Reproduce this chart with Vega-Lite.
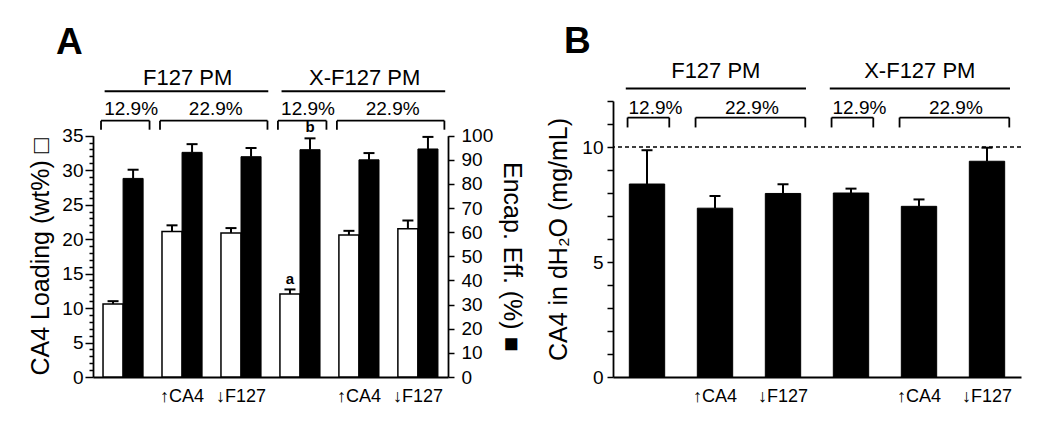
{
  "$schema": "https://vega.github.io/schema/vega-lite/v6.json",
  "padding": {"left": 28, "top": 22, "right": 5, "bottom": 5},
  "background": "white",
  "config": {
    "font": "Liberation Sans",
    "view": {"stroke": null},
    "axis": {"domainColor": "black", "tickColor": "black", "labelColor": "black", "titleColor": "black", "labelFont": "Liberation Sans", "titleFont": "Liberation Sans", "domainWidth": 1.8, "tickWidth": 1.5, "grid": false, "labelFontSize": 19, "titleFontSize": 25, "titleFontWeight": "normal"},
    "title": {"font": "Liberation Sans", "fontSize": 37, "fontWeight": "bold", "color": "black"},
    "text": {"font": "Liberation Sans", "color": "black"}
  },
  "datasets": {
    "A": [
      {"group": "F127 PM 12.9%", "measure": "Loading", "value": 10.6, "upper": 11.0},
      {"group": "F127 PM 12.9%", "measure": "EE", "value": 82.3, "upper": 85.9},
      {"group": "F127 PM 22.9% ↑CA4", "measure": "Loading", "value": 21.1, "upper": 22.0},
      {"group": "F127 PM 22.9% ↑CA4", "measure": "EE", "value": 93.1, "upper": 96.5},
      {"group": "F127 PM 22.9% ↓F127", "measure": "Loading", "value": 20.9, "upper": 21.6},
      {"group": "F127 PM 22.9% ↓F127", "measure": "EE", "value": 91.3, "upper": 94.9},
      {"group": "X-F127 PM 12.9%", "measure": "Loading", "value": 12.05, "upper": 12.7, "sig": "a"},
      {"group": "X-F127 PM 12.9%", "measure": "EE", "value": 94.2, "upper": 98.9, "sig": "b"},
      {"group": "X-F127 PM 22.9% ↑CA4", "measure": "Loading", "value": 20.6, "upper": 21.2},
      {"group": "X-F127 PM 22.9% ↑CA4", "measure": "EE", "value": 90.0, "upper": 92.8},
      {"group": "X-F127 PM 22.9% ↓F127", "measure": "Loading", "value": 21.5, "upper": 22.7},
      {"group": "X-F127 PM 22.9% ↓F127", "measure": "EE", "value": 94.5, "upper": 99.5}
    ],
    "B": [
      {"group": "F127 PM 12.9%", "value": 8.39, "upper": 9.86},
      {"group": "F127 PM 22.9% ↑CA4", "value": 7.34, "upper": 7.87},
      {"group": "F127 PM 22.9% ↓F127", "value": 7.98, "upper": 8.38},
      {"group": "X-F127 PM 12.9%", "value": 8.0, "upper": 8.19},
      {"group": "X-F127 PM 22.9% ↑CA4", "value": 7.42, "upper": 7.72},
      {"group": "X-F127 PM 22.9% ↓F127", "value": 9.38, "upper": 9.97}
    ],
    "brackets": [
      {"from": "F127 PM 12.9%", "to": "F127 PM 12.9%", "label": "12.9%"},
      {"from": "F127 PM 22.9% ↑CA4", "to": "F127 PM 22.9% ↓F127", "label": "22.9%"},
      {"from": "X-F127 PM 12.9%", "to": "X-F127 PM 12.9%", "label": "12.9%"},
      {"from": "X-F127 PM 22.9% ↑CA4", "to": "X-F127 PM 22.9% ↓F127", "label": "22.9%"}
    ],
    "headers": [
      {"from": "F127 PM 12.9%", "to": "F127 PM 22.9% ↓F127", "label": "F127 PM"},
      {"from": "X-F127 PM 12.9%", "to": "X-F127 PM 22.9% ↓F127", "label": "X-F127 PM"}
    ]
  },
  "spacing": 22,
  "hconcat": [
    {
      "width": 355,
      "height": 276,
      "title": {"text": "A", "anchor": "start", "frame": "group", "dx": -37, "offset": 5},
      "layer": [
        {
          "layer": [
            {
              "data": {"name": "A"},
              "transform": [{"filter": "datum.measure == 'Loading'"}],
              "mark": {"type": "bar", "fill": "white", "stroke": "black", "strokeWidth": 1.5},
              "encoding": {
                "x": {"field": "group", "type": "nominal", "scale": {"paddingInner": 0.32, "paddingOuter": 0.17},
                  "axis": {"title": null, "ticks": false, "labelAngle": 0, "labelPadding": 10, "labelFontSize": 18, "labelFont": "Liberation Sans, Inter", "labelDx": -4, "labelExpr": "split(datum.value, ' ')[3] || ''"}},
                "xOffset": {"field": "measure", "type": "nominal", "scale": {"domain": ["Loading", "EE"], "paddingInner": 0, "paddingOuter": 0}},
                "y": {"field": "value", "type": "quantitative",
                  "scale": {"domain": [0, 35], "range": [276, 34.7], "nice": false, "zero": true},
                  "axis": {"orient": "left", "title": "CA4 Loading (wt%) □", "values": [0,1,2,3,4,5,6,7,8,9,10,11,12,13,14,15,16,17,18,19,20,21,22,23,24,25,26,27,28,29,30,31,32,33,34,35], "labelExpr": "datum.value % 5 == 0 ? datum.label : ''", "labelOverlap": false, "tickSize": {"condition": {"test": "datum.value % 5 == 0", "value": 8}, "value": 4}, "labelPadding": 2, "titlePadding": 8}}
              }
            },
            {
              "data": {"name": "A"},
              "transform": [{"filter": "datum.measure == 'Loading'"}],
              "mark": {"type": "rule", "color": "black", "strokeWidth": 2},
              "encoding": {
                "x": {"field": "group", "type": "nominal", "axis": {"title": null, "ticks": false, "labelAngle": 0, "labelPadding": 10, "labelFontSize": 18, "labelFont": "Liberation Sans, Inter", "labelDx": -4, "labelExpr": "split(datum.value, ' ')[3] || ''"}},
                "xOffset": {"field": "measure", "type": "nominal"},
                "y": {"field": "value", "type": "quantitative", "axis": {"orient": "left", "title": "CA4 Loading (wt%) □", "values": [0,1,2,3,4,5,6,7,8,9,10,11,12,13,14,15,16,17,18,19,20,21,22,23,24,25,26,27,28,29,30,31,32,33,34,35], "labelExpr": "datum.value % 5 == 0 ? datum.label : ''", "labelOverlap": false, "tickSize": {"condition": {"test": "datum.value % 5 == 0", "value": 8}, "value": 4}, "labelPadding": 2, "titlePadding": 8}},
                "y2": {"field": "upper"}
              }
            },
            {
              "data": {"name": "A"},
              "transform": [{"filter": "datum.measure == 'Loading'"}],
              "mark": {"type": "tick", "color": "black", "size": 11, "thickness": 2, "opacity": 1},
              "encoding": {
                "x": {"field": "group", "type": "nominal", "axis": {"title": null, "ticks": false, "labelAngle": 0, "labelPadding": 10, "labelFontSize": 18, "labelFont": "Liberation Sans, Inter", "labelDx": -4, "labelExpr": "split(datum.value, ' ')[3] || ''"}},
                "xOffset": {"field": "measure", "type": "nominal"},
                "y": {"field": "upper", "type": "quantitative", "axis": {"orient": "left", "title": "CA4 Loading (wt%) □", "values": [0,1,2,3,4,5,6,7,8,9,10,11,12,13,14,15,16,17,18,19,20,21,22,23,24,25,26,27,28,29,30,31,32,33,34,35], "labelExpr": "datum.value % 5 == 0 ? datum.label : ''", "labelOverlap": false, "tickSize": {"condition": {"test": "datum.value % 5 == 0", "value": 8}, "value": 4}, "labelPadding": 2, "titlePadding": 8}}
              }
            },
            {
              "data": {"name": "A"},
              "transform": [{"filter": "datum.measure == 'Loading' && datum.sig"}],
              "mark": {"type": "text", "fontSize": 15, "fontWeight": "bold", "baseline": "bottom", "dy": -2},
              "encoding": {
                "x": {"field": "group", "type": "nominal", "axis": {"title": null, "ticks": false, "labelAngle": 0, "labelPadding": 10, "labelFontSize": 18, "labelFont": "Liberation Sans, Inter", "labelDx": -4, "labelExpr": "split(datum.value, ' ')[3] || ''"}},
                "xOffset": {"field": "measure", "type": "nominal"},
                "y": {"field": "upper", "type": "quantitative", "axis": {"orient": "left", "title": "CA4 Loading (wt%) □", "values": [0,1,2,3,4,5,6,7,8,9,10,11,12,13,14,15,16,17,18,19,20,21,22,23,24,25,26,27,28,29,30,31,32,33,34,35], "labelExpr": "datum.value % 5 == 0 ? datum.label : ''", "labelOverlap": false, "tickSize": {"condition": {"test": "datum.value % 5 == 0", "value": 8}, "value": 4}, "labelPadding": 2, "titlePadding": 8}},
                "text": {"field": "sig"}
              }
            },
            {
              "data": {"name": "brackets"},
              "mark": {"type": "rule", "color": "black", "strokeWidth": 1.8},
              "encoding": {
                "x": {"field": "from", "type": "nominal", "bandPosition": -0.05, "axis": {"title": null, "ticks": false, "labelAngle": 0, "labelPadding": 10, "labelFontSize": 18, "labelFont": "Liberation Sans, Inter", "labelDx": -4, "labelExpr": "split(datum.value, ' ')[3] || ''"}},
                "x2": {"field": "to", "bandPosition": 1.16},
                "y": {"datum": 37.18, "type": "quantitative", "axis": {"orient": "left", "title": "CA4 Loading (wt%) □", "values": [0,1,2,3,4,5,6,7,8,9,10,11,12,13,14,15,16,17,18,19,20,21,22,23,24,25,26,27,28,29,30,31,32,33,34,35], "labelExpr": "datum.value % 5 == 0 ? datum.label : ''", "labelOverlap": false, "tickSize": {"condition": {"test": "datum.value % 5 == 0", "value": 8}, "value": 4}, "labelPadding": 2, "titlePadding": 8}}
              }
            },
            {
              "data": {"name": "brackets"},
              "mark": {"type": "rule", "color": "black", "strokeWidth": 1.8},
              "encoding": {
                "x": {"field": "from", "type": "nominal", "bandPosition": -0.05, "axis": {"title": null, "ticks": false, "labelAngle": 0, "labelPadding": 10, "labelFontSize": 18, "labelFont": "Liberation Sans, Inter", "labelDx": -4, "labelExpr": "split(datum.value, ' ')[3] || ''"}},
                "y": {"datum": 37.18, "type": "quantitative", "axis": {"orient": "left", "title": "CA4 Loading (wt%) □", "values": [0,1,2,3,4,5,6,7,8,9,10,11,12,13,14,15,16,17,18,19,20,21,22,23,24,25,26,27,28,29,30,31,32,33,34,35], "labelExpr": "datum.value % 5 == 0 ? datum.label : ''", "labelOverlap": false, "tickSize": {"condition": {"test": "datum.value % 5 == 0", "value": 8}, "value": 4}, "labelPadding": 2, "titlePadding": 8}},
                "y2": {"datum": 35.87}
              }
            },
            {
              "data": {"name": "brackets"},
              "mark": {"type": "rule", "color": "black", "strokeWidth": 1.8},
              "encoding": {
                "x": {"field": "to", "type": "nominal", "bandPosition": 1.16, "axis": {"title": null, "ticks": false, "labelAngle": 0, "labelPadding": 10, "labelFontSize": 18, "labelFont": "Liberation Sans, Inter", "labelDx": -4, "labelExpr": "split(datum.value, ' ')[3] || ''"}},
                "y": {"datum": 37.18, "type": "quantitative", "axis": {"orient": "left", "title": "CA4 Loading (wt%) □", "values": [0,1,2,3,4,5,6,7,8,9,10,11,12,13,14,15,16,17,18,19,20,21,22,23,24,25,26,27,28,29,30,31,32,33,34,35], "labelExpr": "datum.value % 5 == 0 ? datum.label : ''", "labelOverlap": false, "tickSize": {"condition": {"test": "datum.value % 5 == 0", "value": 8}, "value": 4}, "labelPadding": 2, "titlePadding": 8}},
                "y2": {"datum": 35.87}
              }
            },
            {
              "data": {"name": "brackets"},
              "transform": [{"filter": "datum.label == '12.9%'"}],
              "mark": {"type": "text", "fontSize": 19, "baseline": "alphabetic"},
              "encoding": {
                "x": {"field": "from", "type": "nominal", "bandPosition": 0.7, "axis": {"title": null, "ticks": false, "labelAngle": 0, "labelPadding": 10, "labelFontSize": 18, "labelFont": "Liberation Sans, Inter", "labelDx": -4, "labelExpr": "split(datum.value, ' ')[3] || ''"}},
                "y": {"datum": 37.97, "type": "quantitative", "axis": {"orient": "left", "title": "CA4 Loading (wt%) □", "values": [0,1,2,3,4,5,6,7,8,9,10,11,12,13,14,15,16,17,18,19,20,21,22,23,24,25,26,27,28,29,30,31,32,33,34,35], "labelExpr": "datum.value % 5 == 0 ? datum.label : ''", "labelOverlap": false, "tickSize": {"condition": {"test": "datum.value % 5 == 0", "value": 8}, "value": 4}, "labelPadding": 2, "titlePadding": 8}},
                "text": {"field": "label"}
              }
            },
            {
              "data": {"name": "brackets"},
              "transform": [{"filter": "datum.label == '22.9%'"}],
              "mark": {"type": "text", "fontSize": 19, "baseline": "alphabetic"},
              "encoding": {
                "x": {"field": "to", "type": "nominal", "bandPosition": -0.13, "axis": {"title": null, "ticks": false, "labelAngle": 0, "labelPadding": 10, "labelFontSize": 18, "labelFont": "Liberation Sans, Inter", "labelDx": -4, "labelExpr": "split(datum.value, ' ')[3] || ''"}},
                "y": {"datum": 37.97, "type": "quantitative", "axis": {"orient": "left", "title": "CA4 Loading (wt%) □", "values": [0,1,2,3,4,5,6,7,8,9,10,11,12,13,14,15,16,17,18,19,20,21,22,23,24,25,26,27,28,29,30,31,32,33,34,35], "labelExpr": "datum.value % 5 == 0 ? datum.label : ''", "labelOverlap": false, "tickSize": {"condition": {"test": "datum.value % 5 == 0", "value": 8}, "value": 4}, "labelPadding": 2, "titlePadding": 8}},
                "text": {"field": "label"}
              }
            },
            {
              "data": {"name": "headers"},
              "mark": {"type": "rule", "color": "black", "strokeWidth": 2},
              "encoding": {
                "x": {"field": "from", "type": "nominal", "bandPosition": 0.04, "axis": {"title": null, "ticks": false, "labelAngle": 0, "labelPadding": 10, "labelFontSize": 18, "labelFont": "Liberation Sans, Inter", "labelDx": -4, "labelExpr": "split(datum.value, ' ')[3] || ''"}},
                "x2": {"field": "to", "bandPosition": 1.18},
                "y": {"datum": 41.43, "type": "quantitative", "axis": {"orient": "left", "title": "CA4 Loading (wt%) □", "values": [0,1,2,3,4,5,6,7,8,9,10,11,12,13,14,15,16,17,18,19,20,21,22,23,24,25,26,27,28,29,30,31,32,33,34,35], "labelExpr": "datum.value % 5 == 0 ? datum.label : ''", "labelOverlap": false, "tickSize": {"condition": {"test": "datum.value % 5 == 0", "value": 8}, "value": 4}, "labelPadding": 2, "titlePadding": 8}}
              }
            },
            {
              "data": {"name": "headers"},
              "mark": {"type": "text", "fontSize": 22, "baseline": "alphabetic"},
              "encoding": {
                "x": {"field": "to", "type": "nominal", "bandPosition": -0.83, "axis": {"title": null, "ticks": false, "labelAngle": 0, "labelPadding": 10, "labelFontSize": 18, "labelFont": "Liberation Sans, Inter", "labelDx": -4, "labelExpr": "split(datum.value, ' ')[3] || ''"}},
                "y": {"datum": 42.4, "type": "quantitative", "axis": {"orient": "left", "title": "CA4 Loading (wt%) □", "values": [0,1,2,3,4,5,6,7,8,9,10,11,12,13,14,15,16,17,18,19,20,21,22,23,24,25,26,27,28,29,30,31,32,33,34,35], "labelExpr": "datum.value % 5 == 0 ? datum.label : ''", "labelOverlap": false, "tickSize": {"condition": {"test": "datum.value % 5 == 0", "value": 8}, "value": 4}, "labelPadding": 2, "titlePadding": 8}},
                "text": {"field": "label"}
              }
            }
          ]
        },
        {
          "layer": [
            {
              "data": {"name": "A"},
              "transform": [{"filter": "datum.measure == 'EE'"}],
              "mark": {"type": "bar", "fill": "black", "stroke": "black", "strokeWidth": 1},
              "encoding": {
                "x": {"field": "group", "type": "nominal", "axis": {"title": null, "ticks": false, "labelAngle": 0, "labelPadding": 10, "labelFontSize": 18, "labelFont": "Liberation Sans, Inter", "labelDx": -4, "labelExpr": "split(datum.value, ' ')[3] || ''"}},
                "xOffset": {"field": "measure", "type": "nominal", "scale": {"domain": ["Loading", "EE"], "paddingInner": 0, "paddingOuter": 0}},
                "y": {"field": "value", "type": "quantitative",
                  "scale": {"domain": [0, 100], "range": [276, 34.7], "nice": false, "zero": true},
                  "axis": {"orient": "right", "title": "Encap. Eff. (%) ■", "values": [0,10,20,30,40,50,60,70,80,90,100], "labelOverlap": false, "tickSize": 6, "labelPadding": 7, "titlePadding": 6}}
              }
            },
            {
              "data": {"name": "A"},
              "transform": [{"filter": "datum.measure == 'EE'"}],
              "mark": {"type": "rule", "color": "black", "strokeWidth": 2},
              "encoding": {
                "x": {"field": "group", "type": "nominal", "axis": {"title": null, "ticks": false, "labelAngle": 0, "labelPadding": 10, "labelFontSize": 18, "labelFont": "Liberation Sans, Inter", "labelDx": -4, "labelExpr": "split(datum.value, ' ')[3] || ''"}},
                "xOffset": {"field": "measure", "type": "nominal"},
                "y": {"field": "value", "type": "quantitative", "axis": {"orient": "right", "title": "Encap. Eff. (%) ■", "values": [0,10,20,30,40,50,60,70,80,90,100], "labelOverlap": false, "tickSize": 6, "labelPadding": 7, "titlePadding": 6}},
                "y2": {"field": "upper"}
              }
            },
            {
              "data": {"name": "A"},
              "transform": [{"filter": "datum.measure == 'EE'"}],
              "mark": {"type": "tick", "color": "black", "size": 11, "thickness": 2, "opacity": 1},
              "encoding": {
                "x": {"field": "group", "type": "nominal", "axis": {"title": null, "ticks": false, "labelAngle": 0, "labelPadding": 10, "labelFontSize": 18, "labelFont": "Liberation Sans, Inter", "labelDx": -4, "labelExpr": "split(datum.value, ' ')[3] || ''"}},
                "xOffset": {"field": "measure", "type": "nominal"},
                "y": {"field": "upper", "type": "quantitative", "axis": {"orient": "right", "title": "Encap. Eff. (%) ■", "values": [0,10,20,30,40,50,60,70,80,90,100], "labelOverlap": false, "tickSize": 6, "labelPadding": 7, "titlePadding": 6}}
              }
            },
            {
              "data": {"name": "A"},
              "transform": [{"filter": "datum.measure == 'EE' && datum.sig"}],
              "mark": {"type": "text", "fontSize": 15, "fontWeight": "bold", "baseline": "bottom", "dy": -3},
              "encoding": {
                "x": {"field": "group", "type": "nominal", "axis": {"title": null, "ticks": false, "labelAngle": 0, "labelPadding": 10, "labelFontSize": 18, "labelFont": "Liberation Sans, Inter", "labelDx": -4, "labelExpr": "split(datum.value, ' ')[3] || ''"}},
                "xOffset": {"field": "measure", "type": "nominal"},
                "y": {"field": "upper", "type": "quantitative", "axis": {"orient": "right", "title": "Encap. Eff. (%) ■", "values": [0,10,20,30,40,50,60,70,80,90,100], "labelOverlap": false, "tickSize": 6, "labelPadding": 7, "titlePadding": 6}},
                "text": {"field": "sig"}
              }
            }
          ]
        }
      ],
      "resolve": {"scale": {"y": "independent"}}
    },
    {
      "width": 408,
      "height": 276,
      "title": {"text": "B", "anchor": "start", "frame": "group", "dx": -49, "offset": -1},
      "layer": [
        {
          "data": {"name": "B"},
          "mark": {"type": "bar", "fill": "black", "stroke": "black", "strokeWidth": 1},
          "encoding": {
            "x": {"field": "group", "type": "nominal", "scale": {"paddingInner": 0.48, "paddingOuter": 0.24},
              "axis": {"title": null, "ticks": false, "labelAngle": 0, "labelPadding": 10, "labelFontSize": 18, "labelFont": "Liberation Sans, Inter", "labelDx": -7, "labelExpr": "split(datum.value, ' ')[3] || ''"}},
            "y": {"field": "value", "type": "quantitative",
              "scale": {"domain": [0, 12], "nice": false, "zero": true},
              "axis": {"title": "CA4 in dH₂O (mg/mL)", "values": [0,1,2,3,4,5,6,7,8,9,10,11,12], "labelExpr": "datum.value % 5 == 0 ? datum.label : ''", "labelOverlap": false, "tickSize": 6, "labelPadding": 4, "titlePadding": 10}}
          }
        },
        {
          "data": {"name": "B"},
          "mark": {"type": "rule", "color": "black", "strokeWidth": 2},
          "encoding": {
            "x": {"field": "group", "type": "nominal", "axis": {"title": null, "ticks": false, "labelAngle": 0, "labelPadding": 10, "labelFontSize": 18, "labelFont": "Liberation Sans, Inter", "labelDx": -7, "labelExpr": "split(datum.value, ' ')[3] || ''"}},
            "y": {"field": "value", "type": "quantitative", "axis": {"title": "CA4 in dH₂O (mg/mL)", "values": [0,1,2,3,4,5,6,7,8,9,10,11,12], "labelExpr": "datum.value % 5 == 0 ? datum.label : ''", "labelOverlap": false, "tickSize": 6, "labelPadding": 4, "titlePadding": 10}},
            "y2": {"field": "upper"}
          }
        },
        {
          "data": {"name": "B"},
          "mark": {"type": "tick", "color": "black", "size": 11, "thickness": 2, "opacity": 1},
          "encoding": {
            "x": {"field": "group", "type": "nominal", "axis": {"title": null, "ticks": false, "labelAngle": 0, "labelPadding": 10, "labelFontSize": 18, "labelFont": "Liberation Sans, Inter", "labelDx": -7, "labelExpr": "split(datum.value, ' ')[3] || ''"}},
            "y": {"field": "upper", "type": "quantitative", "axis": {"title": "CA4 in dH₂O (mg/mL)", "values": [0,1,2,3,4,5,6,7,8,9,10,11,12], "labelExpr": "datum.value % 5 == 0 ? datum.label : ''", "labelOverlap": false, "tickSize": 6, "labelPadding": 4, "titlePadding": 10}}
          }
        },
        {
          "data": {"values": [{}]},
          "mark": {"type": "rule", "color": "black", "strokeWidth": 1.5, "strokeDash": [4, 3]},
          "encoding": {"y": {"datum": 10, "type": "quantitative", "axis": {"title": "CA4 in dH₂O (mg/mL)", "values": [0,1,2,3,4,5,6,7,8,9,10,11,12], "labelExpr": "datum.value % 5 == 0 ? datum.label : ''", "labelOverlap": false, "tickSize": 6, "labelPadding": 4, "titlePadding": 10}}}
        },
        {
          "data": {"name": "brackets"},
          "mark": {"type": "rule", "color": "black", "strokeWidth": 1.8},
          "encoding": {
            "x": {"field": "from", "type": "nominal", "bandPosition": -0.05, "axis": {"title": null, "ticks": false, "labelAngle": 0, "labelPadding": 10, "labelFontSize": 18, "labelFont": "Liberation Sans, Inter", "labelDx": -7, "labelExpr": "split(datum.value, ' ')[3] || ''"}},
            "x2": {"field": "to", "bandPosition": 1.13},
            "y": {"datum": 11.28, "type": "quantitative", "axis": {"title": "CA4 in dH₂O (mg/mL)", "values": [0,1,2,3,4,5,6,7,8,9,10,11,12], "labelExpr": "datum.value % 5 == 0 ? datum.label : ''", "labelOverlap": false, "tickSize": 6, "labelPadding": 4, "titlePadding": 10}}
          }
        },
        {
          "data": {"name": "brackets"},
          "mark": {"type": "rule", "color": "black", "strokeWidth": 1.8},
          "encoding": {
            "x": {"field": "from", "type": "nominal", "bandPosition": -0.05, "axis": {"title": null, "ticks": false, "labelAngle": 0, "labelPadding": 10, "labelFontSize": 18, "labelFont": "Liberation Sans, Inter", "labelDx": -7, "labelExpr": "split(datum.value, ' ')[3] || ''"}},
            "y": {"datum": 11.28, "type": "quantitative", "axis": {"title": "CA4 in dH₂O (mg/mL)", "values": [0,1,2,3,4,5,6,7,8,9,10,11,12], "labelExpr": "datum.value % 5 == 0 ? datum.label : ''", "labelOverlap": false, "tickSize": 6, "labelPadding": 4, "titlePadding": 10}},
            "y2": {"datum": 10.85}
          }
        },
        {
          "data": {"name": "brackets"},
          "mark": {"type": "rule", "color": "black", "strokeWidth": 1.8},
          "encoding": {
            "x": {"field": "to", "type": "nominal", "bandPosition": 1.13, "axis": {"title": null, "ticks": false, "labelAngle": 0, "labelPadding": 10, "labelFontSize": 18, "labelFont": "Liberation Sans, Inter", "labelDx": -7, "labelExpr": "split(datum.value, ' ')[3] || ''"}},
            "y": {"datum": 11.28, "type": "quantitative", "axis": {"title": "CA4 in dH₂O (mg/mL)", "values": [0,1,2,3,4,5,6,7,8,9,10,11,12], "labelExpr": "datum.value % 5 == 0 ? datum.label : ''", "labelOverlap": false, "tickSize": 6, "labelPadding": 4, "titlePadding": 10}},
            "y2": {"datum": 10.85}
          }
        },
        {
          "data": {"name": "brackets"},
          "transform": [{"filter": "datum.label == '12.9%'"}],
          "mark": {"type": "text", "fontSize": 19, "baseline": "alphabetic"},
          "encoding": {
            "x": {"field": "from", "type": "nominal", "bandPosition": 0.74, "axis": {"title": null, "ticks": false, "labelAngle": 0, "labelPadding": 10, "labelFontSize": 18, "labelFont": "Liberation Sans, Inter", "labelDx": -7, "labelExpr": "split(datum.value, ' ')[3] || ''"}},
            "y": {"datum": 11.42, "type": "quantitative", "axis": {"title": "CA4 in dH₂O (mg/mL)", "values": [0,1,2,3,4,5,6,7,8,9,10,11,12], "labelExpr": "datum.value % 5 == 0 ? datum.label : ''", "labelOverlap": false, "tickSize": 6, "labelPadding": 4, "titlePadding": 10}},
            "text": {"field": "label"}
          }
        },
        {
          "data": {"name": "brackets"},
          "transform": [{"filter": "datum.label == '22.9%'"}],
          "mark": {"type": "text", "fontSize": 19, "baseline": "alphabetic"},
          "encoding": {
            "x": {"field": "to", "type": "nominal", "bandPosition": -0.38, "axis": {"title": null, "ticks": false, "labelAngle": 0, "labelPadding": 10, "labelFontSize": 18, "labelFont": "Liberation Sans, Inter", "labelDx": -7, "labelExpr": "split(datum.value, ' ')[3] || ''"}},
            "y": {"datum": 11.42, "type": "quantitative", "axis": {"title": "CA4 in dH₂O (mg/mL)", "values": [0,1,2,3,4,5,6,7,8,9,10,11,12], "labelExpr": "datum.value % 5 == 0 ? datum.label : ''", "labelOverlap": false, "tickSize": 6, "labelPadding": 4, "titlePadding": 10}},
            "text": {"field": "label"}
          }
        },
        {
          "data": {"name": "headers"},
          "mark": {"type": "rule", "color": "black", "strokeWidth": 2},
          "encoding": {
            "x": {"field": "from", "type": "nominal", "bandPosition": -0.1, "axis": {"title": null, "ticks": false, "labelAngle": 0, "labelPadding": 10, "labelFontSize": 18, "labelFont": "Liberation Sans, Inter", "labelDx": -7, "labelExpr": "split(datum.value, ' ')[3] || ''"}},
            "x2": {"field": "to", "bandPosition": 1.15},
            "y": {"datum": 12.54, "type": "quantitative", "axis": {"title": "CA4 in dH₂O (mg/mL)", "values": [0,1,2,3,4,5,6,7,8,9,10,11,12], "labelExpr": "datum.value % 5 == 0 ? datum.label : ''", "labelOverlap": false, "tickSize": 6, "labelPadding": 4, "titlePadding": 10}}
          }
        },
        {
          "data": {"name": "headers"},
          "mark": {"type": "text", "fontSize": 22, "baseline": "alphabetic"},
          "encoding": {
            "x": {"field": "to", "type": "nominal", "bandPosition": -1.4, "axis": {"title": null, "ticks": false, "labelAngle": 0, "labelPadding": 10, "labelFontSize": 18, "labelFont": "Liberation Sans, Inter", "labelDx": -7, "labelExpr": "split(datum.value, ' ')[3] || ''"}},
            "y": {"datum": 13.02, "type": "quantitative", "axis": {"title": "CA4 in dH₂O (mg/mL)", "values": [0,1,2,3,4,5,6,7,8,9,10,11,12], "labelExpr": "datum.value % 5 == 0 ? datum.label : ''", "labelOverlap": false, "tickSize": 6, "labelPadding": 4, "titlePadding": 10}},
            "text": {"field": "label"}
          }
        }
      ]
    }
  ]
}
